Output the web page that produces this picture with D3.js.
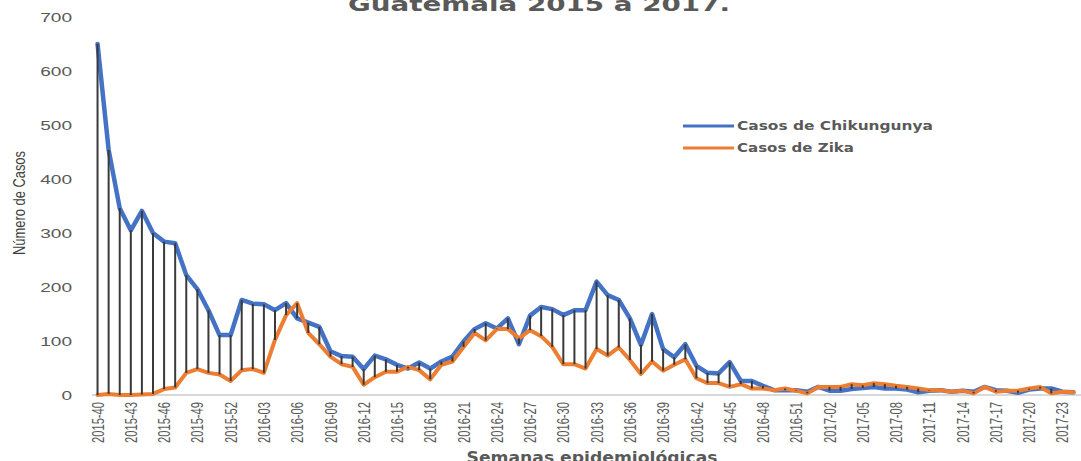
<!DOCTYPE html>
<html>
<head>
<meta charset="utf-8">
<script src="https://cdn.jsdelivr.net/npm/d3@7"></script>
<style>
  body { margin: 0; background: #fff; }
  svg { display: block; }
</style>
</head>
<body>
<svg id="chart" width="1081" height="461"></svg>
<script>
// epidemiological weeks, 2015-40 .. 2017-24
var weeks = []
for (var w = 40; w <= 52; w++) weeks.push("2015-" + w)
for (var w = 1; w <= 52; w++) weeks.push("2016-" + (w < 10 ? "0" + w : w))
for (var w = 1; w <= 24; w++) weeks.push("2017-" + (w < 10 ? "0" + w : w))

var chikungunya = [650,454,346,305,341,300,284,281,222,196,
  157,111,111,176,169,168,157,170,142,134,
  126,81,72,71,48,73,66,56,49,60,
  49,62,71,99,122,133,123,142,94,147,
  163,159,148,157,157,210,185,176,142,93,
  150,85,70,94,54,41,40,61,26,26,
  17,9,9,9,6,15,8,8,11,13,
  15,12,12,10,5,8,9,6,8,6,
  15,9,8,4,10,12,12,6,5]

var zika = [0,2,0,0,1,2,11,14,41,48,
  41,38,26,46,48,41,102,148,170,115,
  94,71,57,52,19,33,43,43,52,46,
  29,56,62,89,115,101,122,122,105,120,
  109,89,57,57,49,85,73,88,65,39,
  62,45,56,66,31,22,22,15,20,12,
  12,9,12,8,3,15,15,15,20,18,
  22,20,17,15,12,9,9,6,8,3,
  15,6,8,8,12,15,3,6,5]

var yTicks = [0,100,200,300,400,500,600,700]
var seriesNames = ["Casos de Chikungunya", "Casos de Zika"]
var seriesColors = ["#4472c4", "#ed7d31"]

var svg = d3.select("#chart")
var grey = "#595959"

var x = d3.scaleBand()
  .domain(weeks)
  .range([92, 1079])
var y = d3.scaleLinear()
  .domain([0, 700])
  .range([395, 17])
var cx = d => x(d) + x.bandwidth() / 2

// title (top is cut off in the original)
svg.append("text")
  .attr("x", 539).attr("y", 11)
  .attr("text-anchor", "middle")
  .attr("font-family", "DejaVu Sans")
  .attr("font-weight", "bold")
  .attr("font-size", 20)
  .attr("textLength", 382)
  .attr("lengthAdjust", "spacingAndGlyphs")
  .attr("fill", grey)
  .text("Guatemala 2015 a 2017.")

// y axis, labels only
var yAxis = svg.append("g")
  .attr("transform", "translate(72,0)")
  .call(d3.axisLeft(y).tickValues(yTicks).tickSize(0).tickPadding(0))
yAxis.select(".domain").remove()
yAxis.selectAll("text")
  .attr("font-family", "Liberation Sans")
  .attr("font-size", 12.5)
  .attr("fill", grey)
  .attr("x", 0)
  .attr("dy", "0.36em")
  .attr("textLength", d => String(d).length * 10.6)
  .attr("lengthAdjust", "spacingAndGlyphs")

svg.append("text")
  .attr("transform", "translate(25,203) rotate(-90)")
  .attr("text-anchor", "middle")
  .attr("font-family", "Liberation Sans")
  .attr("font-size", 17)
  .attr("textLength", 104)
  .attr("lengthAdjust", "spacingAndGlyphs")
  .attr("fill", "#404040")
  .text("Número de Casos")

// x axis
var xAxis = svg.append("g")
  .attr("transform", "translate(0,395)")
  .call(d3.axisBottom(x)
    .tickValues(weeks.filter((d, i) => i % 3 == 0))
    .tickSize(0).tickSizeOuter(0))
xAxis.select(".domain")
  .attr("stroke", "#d9d9d9")
  .attr("stroke-width", 2)
  .attr("d", "M92,0H1081")
xAxis.selectAll("text")
  .attr("font-family", "Liberation Sans")
  .attr("font-size", 17)
  .attr("fill", grey)
  .attr("text-anchor", "end")
  .attr("y", 0)
  .attr("dy", "0.36em")
  .attr("transform", "translate(0,7) rotate(-90)")
  .attr("textLength", 41)
  .attr("lengthAdjust", "spacingAndGlyphs")

svg.append("text")
  .attr("x", 592).attr("y", 463)
  .attr("text-anchor", "middle")
  .attr("font-family", "DejaVu Sans")
  .attr("font-weight", "bold")
  .attr("font-size", 15)
  .attr("textLength", 251)
  .attr("lengthAdjust", "spacingAndGlyphs")
  .attr("fill", grey)
  .text("Semanas epidemiológicas")

// series lines
var line = d3.line()
  .x((d, i) => cx(weeks[i]))
  .y(d => y(d))

svg.append("path")
  .datum(chikungunya)
  .attr("d", line)
  .attr("fill", "none")
  .attr("stroke", seriesColors[0])
  .attr("stroke-width", 4.5)
  .attr("stroke-linejoin", "round")
  .attr("stroke-linecap", "round")

svg.append("path")
  .datum(zika)
  .attr("d", line)
  .attr("fill", "none")
  .attr("stroke", seriesColors[1])
  .attr("stroke-width", 4)
  .attr("stroke-linejoin", "round")
  .attr("stroke-linecap", "round")

// high-low lines
svg.append("g")
  .selectAll("line")
  .data(weeks)
  .enter().append("line")
  .attr("x1", d => cx(d))
  .attr("x2", d => cx(d))
  .attr("y1", (d, i) => y(chikungunya[i]))
  .attr("y2", (d, i) => y(zika[i]))
  .attr("stroke", "#3a3a3a")
  .attr("stroke-width", 2)

// legend
var legend = svg.append("g")
  .selectAll("g")
  .data(seriesNames)
  .enter().append("g")
  .attr("transform", (d, i) => "translate(683," + (126 + i * 22) + ")")
legend.append("line")
  .attr("x1", 0).attr("x2", 51)
  .attr("stroke", (d, i) => seriesColors[i])
  .attr("stroke-width", 3)
legend.append("text")
  .attr("x", 54)
  .attr("dy", "0.35em")
  .attr("font-family", "DejaVu Sans")
  .attr("font-weight", "bold")
  .attr("font-size", 11.5)
  .attr("textLength", (d, i) => i == 0 ? 196 : 117)
  .attr("lengthAdjust", "spacingAndGlyphs")
  .attr("fill", grey)
  .text(d => d)
</script>
</body>
</html>
